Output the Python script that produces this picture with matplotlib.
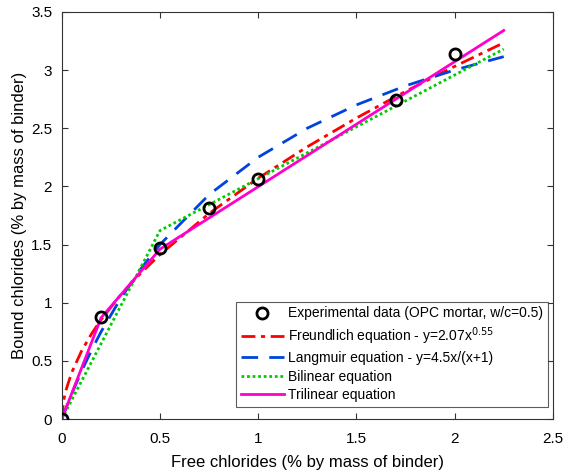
import matplotlib.pyplot as plt

plt.rcParams['font.family'] = ['Liberation Sans', 'DejaVu Sans']

# experimental points
exp_x = [0, 0.2, 0.5, 0.75, 1.0, 1.7, 2.0]
exp_y = [0, 0.88, 1.47, 1.81, 2.06, 2.74, 3.14]

# fitted curves, sampled off the chart
curve_x = [0, 0.01, 0.02, 0.05, 0.1, 0.15, 0.2, 0.3, 0.4, 0.5, 0.75,
           1.0, 1.25, 1.5, 1.75, 2.0, 2.25]
freundlich_y = [0, 0.164, 0.241, 0.398, 0.583, 0.729, 0.854, 1.067, 1.250,
                1.414, 1.767, 2.07, 2.340, 2.587, 2.816, 3.031, 3.234]
langmuir_y = [0, 0.045, 0.088, 0.214, 0.409, 0.587, 0.75, 1.038, 1.286,
              1.5, 1.929, 2.25, 2.5, 2.7, 2.864, 3.0, 3.115]

bilinear_x = [0, 0.5, 2.25]
bilinear_y = [0, 1.62, 3.18]

trilinear_x = [0, 0.2, 0.5, 2.25]
trilinear_y = [0, 0.87, 1.46, 3.34]

fig = plt.figure(figsize=(5.67, 4.74), dpi=100)
ax = fig.add_axes([0.109, 0.116, 0.866, 0.859])

ax.plot(exp_x, exp_y, 'o', mfc='none', mec='black', mew=2, ms=8,
        label='Experimental data (OPC mortar, w/c=0.5)', zorder=5)
ax.plot(curve_x, freundlich_y, color='#ff0000', lw=2, ls=(0, (5, 2, 1.5, 2)),
        label='Freundlich equation - y=2.07x$^{0.55}$')
ax.plot(curve_x, langmuir_y, color='#0044dd', lw=2, ls=(0, (6, 4)),
        label='Langmuir equation - y=4.5x/(x+1)')
ax.plot(bilinear_x, bilinear_y, color='#00cc00', lw=2, ls=(0, (1, 1)),
        label='Bilinear equation')
ax.plot(trilinear_x, trilinear_y, color='#ff00cc', lw=2,
        label='Trilinear equation')

ax.set_xlim(0, 2.5)
ax.set_ylim(0, 3.5)
ax.set_xticks([0, 0.5, 1, 1.5, 2, 2.5])
ax.set_xticklabels(['0', '0.5', '1', '1.5', '2', '2.5'])
ax.set_yticks([0, 0.5, 1, 1.5, 2, 2.5, 3, 3.5])
ax.set_yticklabels(['0', '0.5', '1', '1.5', '2', '2.5', '3', '3.5'])
ax.tick_params(direction='in', top=True, right=True, labelsize=11, length=4,
               color='#333333')
ax.tick_params(axis='x', pad=9)
ax.tick_params(axis='y', pad=7)
for s in ax.spines.values():
    s.set_color('#333333')

ax.set_xlabel('Free chlorides (% by mass of binder)', fontsize=12, labelpad=7)
ax.set_ylabel('Bound chlorides (% by mass of binder)', fontsize=12, labelpad=3)

leg = ax.legend(loc='lower right', bbox_to_anchor=(0.99, 0.029), fontsize=10,
                frameon=True, fancybox=False, edgecolor='#333333',
                handlelength=3.1, handletextpad=0.3, borderpad=0.35,
                labelspacing=0.33, borderaxespad=0)
leg.get_frame().set_linewidth(0.8)

fig.savefig('out.png', dpi=100)
